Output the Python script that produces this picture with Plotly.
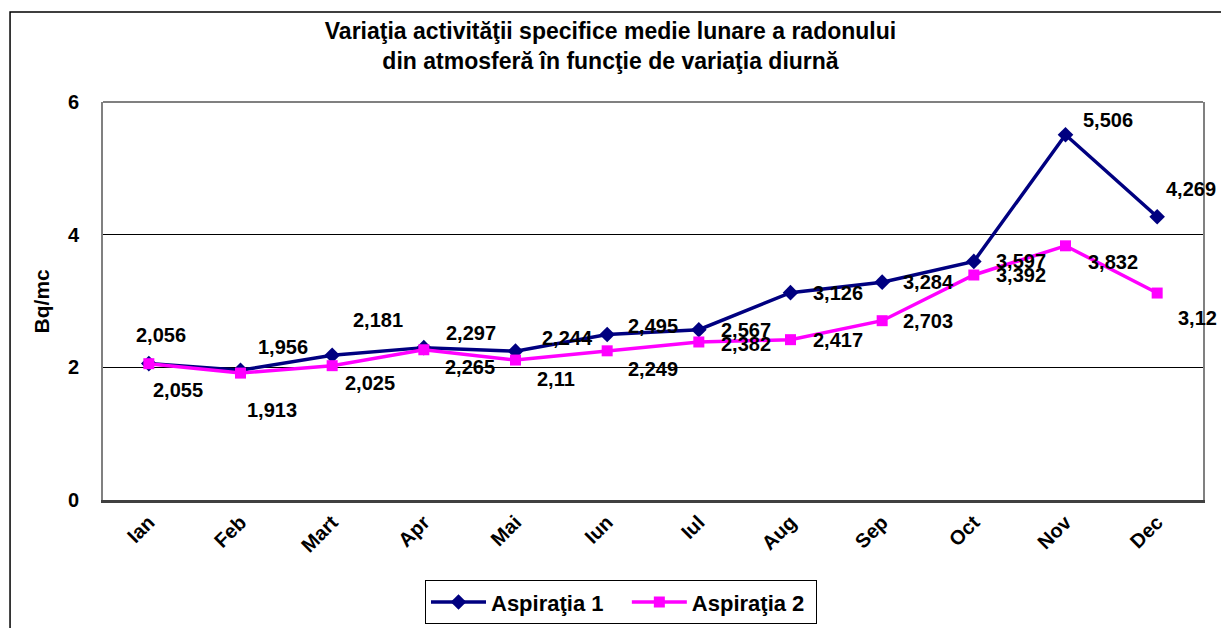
import plotly.graph_objects as go

luni = ["Ian", "Feb", "Mart", "Apr", "Mai", "Iun", "Iul", "Aug", "Sep", "Oct", "Nov", "Dec"]
asp1 = [2.056, 1.956, 2.181, 2.297, 2.244, 2.495, 2.567, 3.126, 3.284, 3.597, 5.506, 4.269]
asp2 = [2.055, 1.913, 2.025, 2.265, 2.11, 2.249, 2.382, 2.417, 2.703, 3.392, 3.832, 3.12]

# pixel offsets of the data labels (label centre minus marker), as placed in the original
off1 = [(12, -29), (42, -23), (46, -35), (47, -15), (52, -13), (46, -9),
        (47, 0), (47, 0), (46, 0), (47, 0), (42, -15), (34, -28)]
off2 = [(29, 26), (31, 37), (38, 17), (46, 17), (40, 19), (46, 18),
        (47, 2), (47, 0), (46, 0), (47, 0), (47, 16), (40, 25)]

fnt = "Liberation Sans, Arial, sans-serif"

def fmt(v):
    return ("%g" % v).replace(".", ",")

fig = go.Figure()
fig.add_trace(go.Scatter(x=luni, y=asp1, name="<b>Aspiraţia 1</b>&nbsp;&nbsp;&nbsp;", mode="lines+markers",
                         line=dict(color="#000080", width=3.5),
                         marker=dict(symbol="diamond", size=12, color="#000080")))
fig.add_trace(go.Scatter(x=luni, y=asp2, name="<b>Aspiraţia 2</b>&nbsp;", mode="lines+markers",
                         line=dict(color="#FF00FF", width=3.5),
                         marker=dict(symbol="square", size=11, color="#FF00FF")))

for serie, offs in ((asp1, off1), (asp2, off2)):
    for m, v, (dx, dy) in zip(luni, serie, offs):
        fig.add_annotation(x=m, y=v, text="<b>" + fmt(v) + "</b>", showarrow=False,
                           xshift=dx, yshift=-dy,
                           font=dict(family=fnt, size=20, color="black"))

fig.add_annotation(xref="paper", yref="paper", x=-0.056, y=0.5, text="<b>Bq/mc</b>",
                   textangle=-90, showarrow=False, xanchor="center", yanchor="middle",
                   font=dict(family=fnt, size=21, color="black"))

# outer chart frame
fig.add_shape(type="rect", xref="paper", yref="paper", x0=-0.0845, x1=1.03, y0=-0.4, y1=1.226,
              line=dict(color="black", width=1.5), layer="below")
# top edge of the plot area (grey, like the sides)
fig.add_shape(type="line", xref="paper", yref="paper", x0=0, x1=1, y0=1, y1=1,
              line=dict(color="#808080", width=2), layer="above")

fig.update_layout(
    width=1221, height=628,
    margin=dict(l=103, r=18, t=102, b=128),
    plot_bgcolor="white", paper_bgcolor="white",
    font=dict(family=fnt, size=18, color="black"),
    title=dict(text="<b>Variaţia activităţii specifice medie lunare a radonului<br>din atmosferă în funcţie de variaţia diurnă</b>",
               x=0.5, xanchor="center", xref="container", y=0.938, yanchor="middle", yref="container",
               font=dict(family=fnt, size=23, color="black")),
    legend=dict(orientation="h", x=0.5086, xanchor="center", xref="container",
                y=0.041, yanchor="middle", yref="container",
                bordercolor="black", borderwidth=1, bgcolor="white", itemwidth=55,
                font=dict(family=fnt, size=22, color="black")),
    showlegend=True,
)

fig.update_xaxes(range=[-0.5, 11.5], showgrid=False, tickangle=-45, automargin=False,
                 tickfont=dict(family=fnt, size=20, color="black"),
                 showline=True, linecolor="#404040", linewidth=2.5, mirror=False,
                 ticks="", tickprefix="<b>", ticksuffix="</b>")
fig.update_yaxes(range=[0, 6], dtick=2, showgrid=True, gridcolor="black", gridwidth=1,
                 zeroline=False, automargin=False, tickfont=dict(family=fnt, size=20, color="black"),
                 showline=True, linecolor="#808080", linewidth=2, mirror=True,
                 ticks="", ticklabelstandoff=18, tickprefix="<b>", ticksuffix="</b>")

fig.write_html("out.html", config={"displayModeBar": False},
               post_script="document.body.style.margin='0';")
